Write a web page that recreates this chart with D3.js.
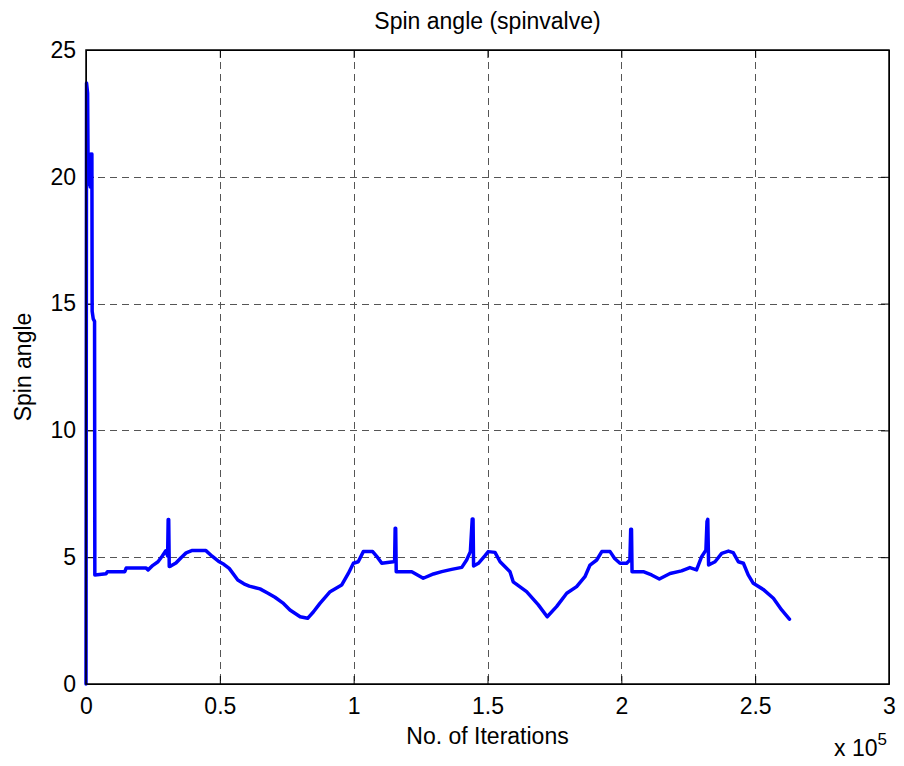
<html>
<head>
    <meta charset="utf-8">
    <title>Spin angle (spinvalve)</title>
    <script src="https://d3js.org/d3.v7.min.js"></script>
    <style>
        body { margin: 0; background: #fff; }
        text { font-family: "Liberation Sans", Arial, sans-serif; fill: #000; }
    </style>
</head>
<body>
    <script type="text/javascript">
    // iterations (x 1e5) and spin angle
    const iterations = [
        0, 0.002, 0.004, 0.006, 0.008, 0.010, 0.012, 0.014, 0.016, 0.018, 0.020, 0.022,
        0.023, 0.027, 0.032, 0.033, 0.050, 0.075, 0.080, 0.145, 0.150, 0.225, 0.232,
        0.250, 0.269, 0.285, 0.298, 0.305, 0.307, 0.309, 0.311, 0.318, 0.336, 0.355,
        0.374, 0.395, 0.411, 0.448, 0.470, 0.498, 0.515, 0.535, 0.567, 0.590, 0.610,
        0.650, 0.680, 0.706, 0.735, 0.762, 0.800, 0.828, 0.850, 0.874, 0.912, 0.955,
        0.980, 0.999, 1.017, 1.036, 1.071, 1.090, 1.105, 1.148, 1.153, 1.155, 1.157,
        1.159, 1.217, 1.260, 1.298, 1.329, 1.366, 1.404, 1.422, 1.436, 1.443, 1.446,
        1.448, 1.466, 1.490, 1.503, 1.528, 1.547, 1.584, 1.596, 1.646, 1.690, 1.723,
        1.758, 1.796, 1.833, 1.864, 1.883, 1.908, 1.927, 1.958, 1.975, 1.995, 2.020,
        2.032, 2.035, 2.038, 2.040, 2.082, 2.113, 2.142, 2.182, 2.225, 2.256, 2.281,
        2.300, 2.316, 2.320, 2.323, 2.326, 2.350, 2.375, 2.400, 2.418, 2.437, 2.456,
        2.474, 2.493, 2.530, 2.568, 2.599, 2.628
    ];
    const spinAngle = [
        0, 23.7, 23.5, 23.3, 20.2, 20.8, 19.7, 20.6, 19.6, 20.9, 20.7, 20.9,
        14.7, 14.4, 14.3, 4.3, 4.32, 4.35, 4.43, 4.43, 4.57, 4.57, 4.50,
        4.68, 4.82, 5.05, 5.25, 5.05, 6.49, 6.49, 4.63, 4.66, 4.77, 4.98,
        5.17, 5.26, 5.26, 5.26, 5.05, 4.82, 4.72, 4.56, 4.10, 3.95, 3.86,
        3.75, 3.58, 3.42, 3.20, 2.92, 2.65, 2.59, 2.85, 3.18, 3.64, 3.90,
        4.36, 4.76, 4.82, 5.22, 5.22, 4.98, 4.76, 4.82, 4.85, 6.14, 6.14,
        4.43, 4.43, 4.17, 4.34, 4.43, 4.52, 4.60, 4.89, 5.22, 6.51, 6.51,
        4.65, 4.76, 5.05, 5.22, 5.19, 4.82, 4.43, 4.03, 3.64, 3.12, 2.65,
        3.05, 3.58, 3.84, 4.23, 4.69, 4.89, 5.22, 5.22, 4.95, 4.76, 4.76,
        4.89, 6.10, 6.10, 4.43, 4.43, 4.30, 4.14, 4.36, 4.46, 4.59, 4.50,
        5.02, 5.28, 6.40, 6.49, 4.69, 4.82, 5.15, 5.24, 5.18, 4.82, 4.76,
        4.30, 3.97, 3.73, 3.38, 2.92, 2.56
    ];
    const xTicks = [0, 0.5, 1, 1.5, 2, 2.5, 3];
    const yTicks = [0, 5, 10, 15, 20, 25];

    const width = 904;
    const height = 766;
    const margin = {top: 50, right: 15, bottom: 82, left: 86};
    const tickLen = 8;
    const fontSize = 23;

    const points = iterations.map((d, i) => [d, spinAngle[i]]);

    const svg = d3.select("body")
        .append("svg")
        .attr("width", width)
        .attr("height", height);

    const x = d3.scaleLinear()
        .domain([0, 3])
        .range([margin.left, width - margin.right]);

    const y = d3.scaleLinear()
        .domain([0, 25])
        .range([height - margin.bottom, margin.top]);

    // grid
    const gGrid = svg.append("g")
        .attr("stroke", "#555")
        .attr("stroke-width", 1)
        .attr("stroke-dasharray", "7,5");

    gGrid.selectAll("line.vx")
        .data(xTicks.slice(1, -1))
        .join("line")
        .attr("x1", d => Math.round(x(d)) + 0.5)
        .attr("x2", d => Math.round(x(d)) + 0.5)
        .attr("y1", y(25))
        .attr("y2", y(0));

    gGrid.selectAll("line.hy")
        .data(yTicks.slice(1, -1))
        .join("line")
        .attr("x1", x(0))
        .attr("x2", x(3))
        .attr("y1", d => Math.round(y(d)) + 0.5)
        .attr("y2", d => Math.round(y(d)) + 0.5);

    // axes, ticks pointing inward on all four sides
    svg.append("g")
        .attr("transform", `translate(0,${y(0)})`)
        .call(d3.axisBottom(x).tickValues(xTicks).tickSizeInner(-tickLen).tickSizeOuter(0).tickPadding(14).tickFormat(d3.format("")))
        .call(g => g.selectAll("text").attr("font-size", fontSize));

    svg.append("g")
        .attr("transform", `translate(0,${y(25)})`)
        .call(d3.axisTop(x).tickValues(xTicks).tickSizeInner(-tickLen).tickSizeOuter(0).tickFormat(""));

    svg.append("g")
        .attr("transform", `translate(${x(0)},0)`)
        .call(d3.axisLeft(y).tickValues(yTicks).tickSizeInner(-tickLen).tickSizeOuter(0).tickPadding(10))
        .call(g => g.selectAll("text").attr("font-size", fontSize));

    svg.append("g")
        .attr("transform", `translate(${x(3)},0)`)
        .call(d3.axisRight(y).tickValues(yTicks).tickSizeInner(-tickLen).tickSizeOuter(0).tickFormat(""));

    svg.selectAll(".domain").attr("stroke", "#000");
    svg.selectAll(".tick line").attr("stroke", "#000");

    // data line
    svg.append("path")
        .datum(points)
        .attr("fill", "none")
        .attr("stroke", "#0000ff")
        .attr("stroke-width", 3.5)
        .attr("stroke-linejoin", "round")
        .attr("stroke-linecap", "round")
        .attr("d", d3.line().x(d => x(d[0])).y(d => y(d[1])));

    // box
    svg.append("rect")
        .attr("x", x(0))
        .attr("y", y(25))
        .attr("width", x(3) - x(0))
        .attr("height", y(0) - y(25))
        .attr("fill", "none")
        .attr("stroke", "#000")
        .attr("stroke-width", 1.5);

    // labels
    svg.append("text")
        .attr("x", (x(0) + x(3)) / 2)
        .attr("y", 29)
        .attr("text-anchor", "middle")
        .attr("font-size", fontSize)
        .text("Spin angle (spinvalve)");

    svg.append("text")
        .attr("x", (x(0) + x(3)) / 2)
        .attr("y", 744)
        .attr("text-anchor", "middle")
        .attr("font-size", fontSize)
        .text("No. of Iterations");

    svg.append("text")
        .attr("transform", `translate(31,${(y(0) + y(25)) / 2}) rotate(-90)`)
        .attr("text-anchor", "middle")
        .attr("font-size", fontSize)
        .text("Spin angle");

    const exp = svg.append("text")
        .attr("x", 834)
        .attr("y", 756)
        .attr("font-size", fontSize)
        .text("x 10");
    exp.append("tspan")
        .attr("dy", -11)
        .attr("font-size", 17)
        .text("5");
    </script>
</body>
</html>
